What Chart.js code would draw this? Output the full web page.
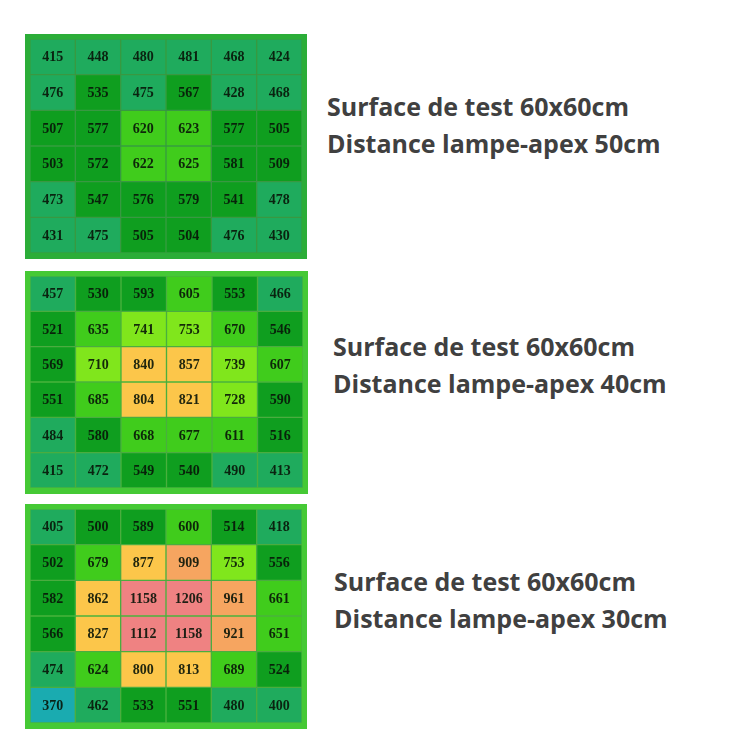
<!DOCTYPE html>
<html>
<head>
<meta charset="utf-8">
<script src="https://cdn.jsdelivr.net/npm/chart.js@4.4.0/dist/chart.umd.min.js"></script>
<style>
  body { margin: 0; background: #fff; width: 750px; height: 750px; position: relative; overflow: hidden; }
  .frame { position: absolute; padding: 5px 5px 6px 5px; }
  .frame canvas { display: block; }
  .caption { position: absolute; font-family: "Open Sans", sans-serif; font-weight: 700;
             font-size: 25px; line-height: 37px; color: #404040; white-space: nowrap; }
</style>
</head>
<body>

<div class="frame" id="f50" style="left:25px; top:34px; background:#2bad38;"><canvas id="c50" width="272" height="214"></canvas></div>
<div class="frame" id="f40" style="left:25px; top:271px; background:#45c935;"><canvas id="c40" width="273" height="212"></canvas></div>
<div class="frame" id="f30" style="left:25px; top:504px; background:#45c935;"><canvas id="c30" width="272" height="214"></canvas></div>

<div class="caption" style="left:327px; top:88px;">Surface de test 60x60cm<br>Distance lampe-apex 50cm</div>
<div class="caption" style="left:333px; top:328px;">Surface de test 60x60cm<br>Distance lampe-apex 40cm</div>
<div class="caption" style="left:334px; top:563px;">Surface de test 60x60cm<br>Distance lampe-apex 30cm</div>

<script>
const columns = ['1', '2', '3', '4', '5', '6'];

// mesures a 50cm (lignes du haut vers le bas)
const grid50 = [
  [415, 448, 480, 481, 468, 424],
  [476, 535, 475, 567, 428, 468],
  [507, 577, 620, 623, 577, 505],
  [503, 572, 622, 625, 581, 509],
  [473, 547, 576, 579, 541, 478],
  [431, 475, 505, 504, 476, 430]
];

// mesures a 40cm
const grid40 = [
  [457, 530, 593, 605, 553, 466],
  [521, 635, 741, 753, 670, 546],
  [569, 710, 840, 857, 739, 607],
  [551, 685, 804, 821, 728, 590],
  [484, 580, 668, 677, 611, 516],
  [415, 472, 549, 540, 490, 413]
];

// mesures a 30cm
const grid30 = [
  [405, 500, 589, 600, 514, 418],
  [502, 679, 877, 909, 753, 556],
  [582, 862, 1158, 1206, 961, 661],
  [566, 827, 1112, 1158, 921, 651],
  [474, 624, 800, 813, 689, 524],
  [370, 462, 533, 551, 480, 400]
];

// paliers de couleur
const steps = [400, 500, 600, 700, 800, 900, 1000];
const stepColors = ['#1aabb0', '#1fab5d', '#0f9e1f', '#40cc1c', '#80e61c', '#fcc64a', '#f6a560', '#ef8282'];

function cellColor(v) {
  let i = 0;
  while (i < steps.length && v >= steps[i]) i++;
  return stepColors[i];
}

const cellLabels = {
  id: 'cellLabels',
  afterDatasetsDraw(chart) {
    const ctx = chart.ctx;
    ctx.save();
    ctx.font = 'bold 14px "Liberation Serif", "Times New Roman", serif';
    ctx.fillStyle = 'rgba(8,20,8,0.9)';
    ctx.textAlign = 'center';
    ctx.textBaseline = 'middle';
    chart.data.datasets.forEach((ds, di) => {
      chart.getDatasetMeta(di).data.forEach((bar, i) => {
        ctx.fillText(ds.values[i], bar.x, (bar.y + bar.base) / 2 + 1);
      });
    });
    ctx.restore();
  }
};

function drawGrid(id, grid) {
  const datasets = grid.map((row, r) => ({
    data: row.map(() => [r, r + 1]),
    values: row,
    backgroundColor: row.map(cellColor),
    borderColor: 'rgba(90,110,90,0.22)',
    borderWidth: 1,
    borderSkipped: false,
    grouped: false,
    barPercentage: 1,
    categoryPercentage: 1
  }));

  new Chart(document.getElementById(id), {
    type: 'bar',
    data: { labels: columns, datasets: datasets },
    options: {
      responsive: false,
      animation: false,
      layout: { padding: 0 },
      plugins: { legend: { display: false }, tooltip: { enabled: false } },
      scales: {
        x: { display: false },
        y: { display: false, min: 0, max: 6, reverse: true }
      }
    },
    plugins: [cellLabels]
  });
}

drawGrid('c50', grid50);
drawGrid('c40', grid40);
drawGrid('c30', grid30);
</script>
</body>
</html>
